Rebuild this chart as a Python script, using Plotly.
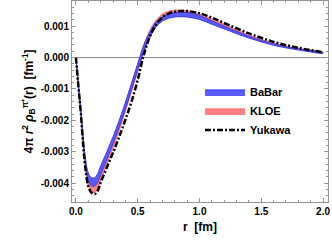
import plotly.graph_objects as go

r = [0.0, 0.02, 0.04, 0.06, 0.08, 0.10, 0.125, 0.15, 0.175, 0.2, 0.25, 0.3, 0.35, 0.4, 0.45, 0.5,
     0.55, 0.6, 0.65, 0.7, 0.75, 0.8, 0.85, 0.9, 1.0, 1.1, 1.2, 1.4, 1.6, 1.8, 2.0]

babar_upper = [0.0, -0.00088, -0.00170, -0.00262, -0.00330, -0.00368, -0.00382, -0.00383, -0.00370, -0.00345,
               -0.00300, -0.00252, -0.00200, -0.00143, -0.00082, -0.00020, 0.00040, 0.00083, 0.00113, 0.00130,
               0.00139, 0.00143, 0.00144, 0.00143, 0.00134, 0.00117, 0.00100, 0.00068, 0.00043, 0.00027, 0.00016]
babar_lower = [0.0, -0.00090, -0.00176, -0.00275, -0.00350, -0.00392, -0.00408, -0.00410, -0.00398, -0.00373,
               -0.00325, -0.00275, -0.00222, -0.00165, -0.00102, -0.00040, 0.00020, 0.00066, 0.00098, 0.00116,
               0.00125, 0.00129, 0.00130, 0.00129, 0.00121, 0.00106, 0.00091, 0.00062, 0.00039, 0.00024, 0.00014]
kloe_upper = [0.0, -0.00090, -0.00175, -0.00272, -0.00345, -0.00385, -0.00400, -0.00402, -0.00390, -0.00364,
              -0.00315, -0.00263, -0.00208, -0.00148, -0.00084, -0.00020, 0.00042, 0.00088, 0.00120, 0.00139,
              0.00147, 0.00151, 0.00151, 0.00149, 0.00139, 0.00123, 0.00106, 0.00072, 0.00046, 0.00029, 0.00017]
kloe_lower = [0.0, -0.00093, -0.00182, -0.00285, -0.00362, -0.00408, -0.00427, -0.00430, -0.00418, -0.00392,
              -0.00340, -0.00288, -0.00232, -0.00172, -0.00108, -0.00044, 0.00018, 0.00066, 0.00102, 0.00122,
              0.00133, 0.00138, 0.00139, 0.00137, 0.00128, 0.00113, 0.00097, 0.00066, 0.00042, 0.00026, 0.00015]
yukawa = [0.0, -0.00092, -0.00180, -0.00285, -0.00365, -0.00410, -0.00430, -0.00435, -0.00425, -0.00398,
          -0.00350, -0.00303, -0.00252, -0.00198, -0.00140, -0.00071, 0.00010, 0.00068, 0.00106, 0.00128,
          0.00140, 0.00146, 0.00148, 0.00148, 0.00141, 0.00127, 0.00110, 0.00077, 0.00050, 0.00031, 0.00017]

x_ticks = [0.0, 0.5, 1.0, 1.5, 2.0]
x_ticklabels = ["0.0", "0.5", "1.0", "1.5", "2.0"]
y_ticks = [-0.004, -0.003, -0.002, -0.001, 0.0, 0.001]
y_ticklabels = ["-0.004", "-0.003", "-0.002", "-0.001", "0.000", "0.001"]

fig = go.Figure()

fig.add_trace(go.Scatter(
    x=r + r[::-1], y=kloe_upper + kloe_lower[::-1], fill="toself", mode="lines",
    line=dict(color="rgb(255,110,110)", width=1, shape="spline"), fillcolor="rgb(255,128,128)",
    name="KLOE", legendrank=2, hoverinfo="skip"))
fig.add_trace(go.Scatter(
    x=r + r[::-1], y=babar_upper + babar_lower[::-1], fill="toself", mode="lines",
    line=dict(color="rgb(60,60,230)", width=1, shape="spline"), fillcolor="rgb(90,90,255)",
    name="BaBar", legendrank=1, hoverinfo="skip"))
fig.add_trace(go.Scatter(
    x=r, y=yukawa, mode="lines",
    line=dict(color="black", width=2.5, dash="6px,2px,2px,2px", shape="spline"),
    name="Yukawa", legendrank=3))

fig.add_hline(y=0, line=dict(color="rgb(140,140,140)", width=1), layer="below")

axis_common = dict(
    showline=True, linecolor="rgb(150,150,150)", linewidth=1, mirror="allticks",
    ticks="inside", ticklen=4, tickcolor="rgb(150,150,150)", showgrid=False, zeroline=False,
    automargin=False,
    tickfont=dict(family="Liberation Sans", size=10, color="black", weight="bold"),
)

fig.update_xaxes(
    range=[-0.032, 2.04], tickvals=x_ticks, ticktext=x_ticklabels,
    minor=dict(ticks="inside", ticklen=2, dtick=0.1, tickcolor="rgb(150,150,150)"),
    title=dict(text="r  [fm]", font=dict(family="Liberation Sans", size=12, color="black", weight="bold"), standoff=6),
    **axis_common)
fig.update_yaxes(
    range=[-0.0046, 0.0018], tickvals=y_ticks, ticktext=y_ticklabels,
    minor=dict(ticks="inside", ticklen=2, dtick=0.0002, tickcolor="rgb(150,150,150)"),
    title=dict(text="4π <i>r</i><sup>2</sup> <i>ρ</i><sub>B</sub><sup>π⁺</sup>(r)  [fm<sup>-1</sup>]",
               font=dict(family="Liberation Sans", size=12, color="black", weight="bold"), standoff=4),
    **axis_common)

fig.update_layout(
    width=332, height=247, margin=dict(l=72, r=4, t=1, b=45),
    plot_bgcolor="white", paper_bgcolor="white",
    showlegend=True,
    legend=dict(x=0.5, y=0.62, xanchor="left", yanchor="top", bgcolor="rgba(0,0,0,0)",
                font=dict(family="Liberation Sans", size=11, color="black", weight="bold"),
                itemwidth=40, tracegroupgap=0),
)

fig.write_html("out.html", config={"displayModeBar": False},
               post_script="document.body.style.margin='0';")
